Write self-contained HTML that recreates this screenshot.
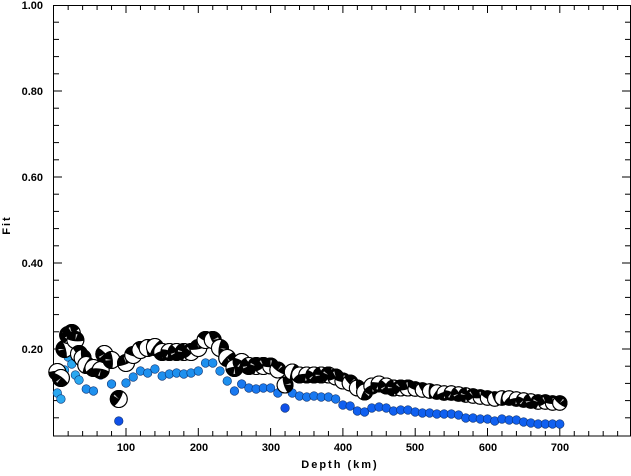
<!DOCTYPE html>
<html><head><style>
body{margin:0;background:#fff;}
text{font-family:"Liberation Sans",sans-serif;font-weight:bold;font-size:11px;fill:#000;}
</style></head><body>
<svg id="s" width="631" height="471" xmlns="http://www.w3.org/2000/svg">
<rect x="0" y="0" width="631" height="471" fill="#fff"/>
<g id="ax" stroke="#000" stroke-width="1" fill="none"></g>
<text x="43" y="9" text-anchor="end">1.00</text>
<text x="43" y="95" text-anchor="end">0.80</text>
<text x="43" y="181" text-anchor="end">0.60</text>
<text x="43" y="267" text-anchor="end">0.40</text>
<text x="43" y="353" text-anchor="end">0.20</text>
<text x="126" y="451" text-anchor="middle">100</text>
<text x="199" y="451" text-anchor="middle">200</text>
<text x="271" y="451" text-anchor="middle">300</text>
<text x="343" y="451" text-anchor="middle">400</text>
<text x="415" y="451" text-anchor="middle">500</text>
<text x="488" y="451" text-anchor="middle">600</text>
<text x="560" y="451" text-anchor="middle">700</text>
<text x="340" y="468" text-anchor="middle" letter-spacing="2">Depth (km)</text>
<text x="10" y="225" text-anchor="middle" letter-spacing="2" transform="rotate(-90 10 225)">Fit</text>
<g id="bl"></g><g id="bb"></g>
</svg>
<script>
var X=function(d){return 53.7+d*0.723};
var ns="http://www.w3.org/2000/svg";
function el(p,t,a){var e=document.createElementNS(ns,t);for(var k in a)e.setAttribute(k,a[k]);p.appendChild(e);return e;}
var ax=document.getElementById('ax');
el(ax,'rect',{x:53.5,y:5.5,width:577,height:430.5});
for(var d=20;d<800;d+=20){var L=(d%100==0)?8:5;el(ax,'line',{x1:X(d),y1:436,x2:X(d),y2:436-L});el(ax,'line',{x1:X(d),y1:5,x2:X(d),y2:5+L});}
for(var v=0.04;v<1;v+=0.04){var y=435-v*430;var m=Math.abs((v*5)-Math.round(v*5))<0.01;var L=m?8:5;el(ax,'line',{x1:54,y1:y,x2:54+L,y2:y});el(ax,'line',{x1:630,y1:y,x2:630-L,y2:y});}
var blue=[[5,393],[10,399],[15,370],[20,357],[25,364],[30,375],[35,380],[45,389],[55,391],[65,375],[80,384],[90,421],[100,383],[110,377],[120,371],[130,373],[140,369],[150,376],[160,374],[170,373],[180,374],[190,373],[200,371],[210,363],[220,363],[230,371],[240,381],[250,391],[260,384],[270,388],[280,389],[290,388],[300,388],[310,393],[320,408],[330,393],[340,396],[350,397],[360,396],[370,397],[380,397],[390,399],[400,405],[410,406],[420,411],[430,412],[440,408],[450,407],[460,408],[470,411],[480,410],[490,410],[500,412],[510,413],[520,413],[530,414],[540,414],[550,414],[560,415],[570,418],[580,418],[590,419],[600,419],[610,421],[620,419],[630,420],[640,420],[650,422],[660,423],[670,424],[680,424],[690,424],[700,424]];
var bl=document.getElementById('bl');
blue.forEach(function(p){var d=p[0];var c=d<40?'#2aa8f0':(d<250?'#1e90ee':(d<400?'#1878f0':'#1060f0'));if(d==90||d==320)c='#1050e8';el(bl,'circle',{cx:X(d),cy:p[1],r:4.3,fill:c,stroke:'#0a3070','stroke-width':0.6});});
var bb=[[5,372],[10,378],[15,349],[20,335],[25,333],[30,340],[35,354],[40,358],[45,365],[55,368],[65,370],[70,354],[80,360],[90,399],[100,363],[110,355],[120,350],[130,348],[140,347],[150,352],[160,352],[170,352],[180,352],[190,352],[200,348],[210,340],[220,340],[230,348],[240,358],[250,368],[260,362],[270,366],[280,366],[290,366],[300,366],[310,370],[320,385],[330,372],[340,375],[350,375],[360,375],[370,375],[380,375],[390,377],[400,381],[410,383],[420,388],[430,392],[440,386],[450,384],[460,386],[470,388],[480,388],[490,388],[500,389],[510,390],[520,391],[530,392],[540,393],[550,393],[560,394],[570,395],[580,396],[590,397],[600,398],[610,399],[620,398],[630,398],[640,399],[650,400],[660,401],[670,402],[680,402],[690,403],[700,403]];
var g=document.getElementById('bb');
bb.forEach(function(p,i){var d=p[0],x=X(d),y=p[1];var r=d<300?8.5:(d<500?8:7.2);
el(g,'circle',{cx:x,cy:y,r:r,fill:'#fff',stroke:'#000','stroke-width':1});
var a=(i*37)%360*Math.PI/180;var c=Math.cos(a),s=Math.sin(a);
el(g,'path',{d:'M'+(x+r*c)+' '+(y+r*s)+' A'+r+' '+r+' 0 0 1 '+(x-r*c)+' '+(y-r*s)+' Q'+(x+r*0.3*s)+' '+(y-r*0.3*c)+' '+(x+r*c)+' '+(y+r*s)+'Z',fill:'#000'});
el(g,'path',{d:'M'+(x-r*0.7*s)+' '+(y+r*0.7*c)+' L'+x+' '+y+' L'+(x-r*c*0.2-r*0.7*s)+' '+(y-r*s*0.2+r*0.7*c)+'Z',fill:'#ccc'});
el(g,'circle',{cx:x,cy:y,r:r,fill:'none',stroke:'#000','stroke-width':1});});
</script>
</body></html>
